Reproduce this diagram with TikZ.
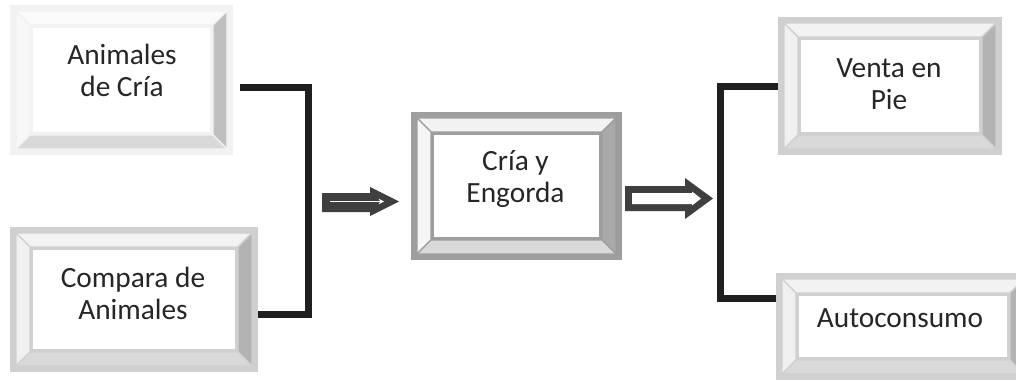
\documentclass[tikz,border=0pt]{standalone}
\usepackage{fontspec}
\setmainfont{Carlito}
\usetikzlibrary{arrows.meta}

% colour sets of the bevelled boxes
\definecolor{pale-frame}{HTML}{F2F2F2}
\definecolor{pale-top}{HTML}{FAFAFA}
\definecolor{pale-left}{HTML}{F7F7F7}
\definecolor{pale-right}{HTML}{BFBFBF}
\definecolor{pale-bottom}{HTML}{D9D9D9}
\definecolor{light-frame}{HTML}{D0D0D0}
\definecolor{light-top}{HTML}{F2F2F2}
\definecolor{light-left}{HTML}{F0F0F0}
\definecolor{light-right}{HTML}{B3B3B3}
\definecolor{light-bottom}{HTML}{D9D9D9}
\definecolor{mid-frame}{HTML}{9E9E9E}
\definecolor{mid-top}{HTML}{F2F2F2}
\definecolor{mid-left}{HTML}{F5F5F5}
\definecolor{mid-right}{HTML}{A9A9A9}
\definecolor{mid-bottom}{HTML}{D9D9D9}
\definecolor{arrowgrey}{HTML}{3F3F3F}
\definecolor{linegrey}{HTML}{1F1F1F}
\definecolor{textgrey}{HTML}{262626}

\tikzset{
  boxtext/.style = {align=center, inner sep=0pt, text=textgrey,
    font=\fontsize{22}{24}\selectfont},
  bracket/.style = {draw=linegrey, line width=5.25pt, line join=miter}
}

\begin{document}
\begin{tikzpicture}[x=0.75pt,y=-0.75pt]
\clip (0,0) rectangle (1016,381);

\pgfmathsetmacro{\frameW}{6}   % outer frame width
\pgfmathsetmacro{\bevelW}{20}  % frame + bevel width

% bevelled box from (left,top) to (right,bottom)
\newcommand{\bevelbox}[6]{%
  \pgfmathsetmacro{\cx}{(#2+#4)/2}%
  \pgfmathsetmacro{\cy}{(#3+#5)/2}%
  \node[fill=#6-frame, inner sep=0pt, minimum width={(#4-#2)*0.75pt},
    minimum height={(#5-#3)*0.75pt}] (#1) at (\cx,\cy) {};%
  \filldraw[draw=#6-frame, line width=1pt, fill=#6-top]
    (#2+\frameW,#3+\frameW) -- (#4-\frameW,#3+\frameW)
    -- (#4-\bevelW,#3+\bevelW) -- (#2+\bevelW,#3+\bevelW) -- cycle;%
  \filldraw[draw=#6-frame, line width=1pt, fill=#6-left]
    (#2+\frameW,#3+\frameW) -- (#2+\bevelW,#3+\bevelW)
    -- (#2+\bevelW,#5-\bevelW) -- (#2+\frameW,#5-\frameW) -- cycle;%
  \filldraw[draw=#6-frame, line width=1pt, fill=#6-right]
    (#4-\frameW,#3+\frameW) -- (#4-\frameW,#5-\frameW)
    -- (#4-\bevelW,#5-\bevelW) -- (#4-\bevelW,#3+\bevelW) -- cycle;%
  \filldraw[draw=#6-frame, line width=1pt, fill=#6-bottom]
    (#2+\frameW,#5-\frameW) -- (#4-\frameW,#5-\frameW)
    -- (#4-\bevelW,#5-\bevelW) -- (#2+\bevelW,#5-\bevelW) -- cycle;%
  \filldraw[draw=#6-frame, line width=2pt, fill=white]
    (#2+\bevelW+1.5,#3+\bevelW+1.5) rectangle (#4-\bevelW-1.5,#5-\bevelW-1.5);%
}

% boxes
\bevelbox{animales}{10}{5}{233}{155}{pale}
\bevelbox{compra}{10}{227}{258}{372}{light}
\bevelbox{cria}{411}{112}{622}{260}{mid}
\bevelbox{venta}{778}{17}{1002}{155}{light}
\bevelbox{auto}{776}{273}{1030}{380}{light}

% box labels
\newcommand{\boxlabel}[4]{\node[boxtext] (#1) at (#2,#3) {#4};}
\boxlabel{animales-txt}{122}{70.5}{Animales\\ de Cría}
\boxlabel{compra-txt}{133}{293.5}{Compara de\\ Animales}
\boxlabel{cria-txt}{515.5}{179.5}{Cría y\\ Engorda}
\boxlabel{venta-txt}{889}{84.5}{Venta en\\ Pie}
\boxlabel{auto-txt}{900}{318.5}{Autoconsumo}

% brackets
\coordinate (lb-start) at (240,88);
\coordinate (lb-top) at (308,88);
\coordinate (lb-bot) at (308,314);
\draw[bracket] (lb-start) -- (lb-top) -- (lb-bot) -- (compra.east |- lb-bot);

\coordinate (rb-top) at (720,87);
\coordinate (rb-bot) at (720,298);
\draw[bracket] (venta.west |- rb-top) -- (rb-top) -- (rb-bot) -- (auto.west |- rb-bot);

% block arrows
\fill[arrowgrey] (322,193) -- (370,193) -- (370,187) -- (399,201.5)
  -- (370,216) -- (370,212) -- (322,212) -- cycle;
\draw[white, line width=0.8pt, -{Stealth[length=4pt,width=4pt]}]
  (330,201.5) -- (384,201.5);

\fill[arrowgrey] (625,186) -- (685,186) -- (685,178) -- (713,198.5)
  -- (685,219) -- (685,211) -- (625,211) -- cycle;
\fill[white] (632,193) -- (692,193) -- (692,191.5) -- (701,198.5)
  -- (692,205.5) -- (692,204) -- (632,204) -- cycle;
\end{tikzpicture}
\end{document}
